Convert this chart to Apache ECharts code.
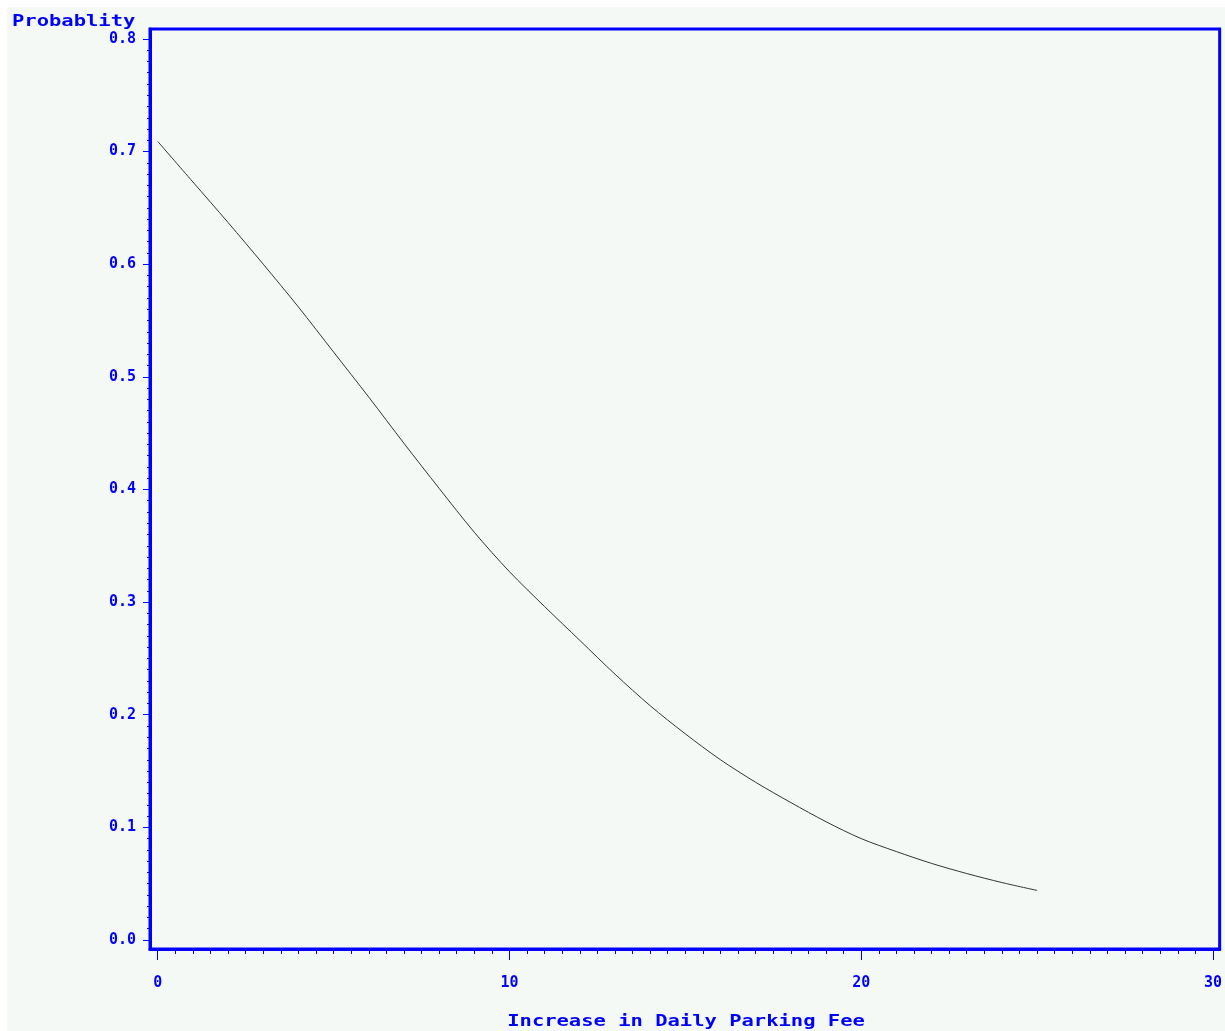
<!DOCTYPE html>
<html>
<head>
<meta charset="utf-8">
<script src="https://cdn.jsdelivr.net/npm/echarts@6/dist/echarts.min.js"></script>
<style>
  html, body { margin: 0; padding: 0; background: #ffffff; }
  #chart { position: absolute; left: 7px; top: 7px; width: 1218px; height: 1024px; background: #f5f9f6; }
</style>
</head>
<body>
<div id="chart"></div>
<script>
// fee increase (x) and predicted probability
const feeIncrease = [0, 1, 2, 3, 4, 5, 6, 7, 8, 9, 10, 11, 12, 13, 14, 15, 16, 17, 18, 19, 20, 21, 22, 23, 24, 25];
const probability = [0.709, 0.673, 0.637, 0.600, 0.562, 0.522, 0.482, 0.441, 0.401, 0.362, 0.327, 0.296, 0.266,
  0.236, 0.208, 0.183, 0.160, 0.140, 0.122, 0.105, 0.090, 0.0785, 0.068, 0.059, 0.051, 0.044];

// tick labels
const xTicks = [0, 10, 20, 30];
const yTicks = [0, 0.1, 0.2, 0.3, 0.4, 0.5, 0.6, 0.7, 0.8];

// minor ticks: every 0.5 on x, every 0.01 on y
const xMinor = [];
for (let i = 0; i <= 60; i++) xMinor.push(i / 2);
const yMinor = [];
for (let i = 0; i <= 80; i++) yMinor.push(i / 100);

const blue = '#0000ff';
const font = { color: blue, fontFamily: 'DejaVu Sans Mono', fontWeight: 'bold', fontSize: 15 };

const chart = echarts.init(document.getElementById('chart'));

const xBase = { type: 'value', min: -0.219, max: 30.19, position: 'bottom', splitLine: { show: false } };
const yBase = { type: 'value', min: -0.008, max: 0.8088, position: 'left', splitLine: { show: false } };

chart.setOption({
  animation: false,
  grid: {
    left: 143, top: 22, right: 5, bottom: 82,
    show: true, borderColor: blue, borderWidth: 3, backgroundColor: 'transparent'
  },
  xAxis: [
    Object.assign({}, xBase, {
      axisLine: { show: true, onZero: false, lineStyle: { color: blue, width: 3 } },
      axisTick: { show: true, customValues: xTicks, length: 11, lineStyle: { color: blue, width: 1 } },
      axisLabel: Object.assign({ customValues: xTicks, margin: 27, formatter: v => String(Math.round(v)) }, font)
    }),
    Object.assign({}, xBase, {
      axisLine: { show: false, onZero: false },
      axisTick: { show: true, customValues: xMinor, length: 5, lineStyle: { color: blue, width: 1 } },
      axisLabel: { show: false }
    })
  ],
  yAxis: [
    Object.assign({}, yBase, {
      axisLine: { show: true, onZero: false, lineStyle: { color: blue, width: 3 } },
      axisTick: { show: true, customValues: yTicks, length: 7, lineStyle: { color: blue, width: 1 } },
      axisLabel: Object.assign({ customValues: yTicks, margin: 14, padding: [6, 0, 0, 0], formatter: v => v.toFixed(1) }, font)
    }),
    Object.assign({}, yBase, {
      axisLine: { show: false, onZero: false },
      axisTick: { show: true, customValues: yMinor, length: 3, lineStyle: { color: blue, width: 1 } },
      axisLabel: { show: false }
    })
  ],
  graphic: [
    {
      type: 'text', left: 5, top: 7, scaleX: 1.28,
      style: { text: 'Probablity', fill: blue, font: 'bold 16px "DejaVu Sans Mono"' }
    },
    {
      type: 'text', x: 679, y: 1015, scaleX: 1.28,
      style: {
        text: 'Increase in Daily Parking Fee', fill: blue, font: 'bold 16px "DejaVu Sans Mono"',
        align: 'center', verticalAlign: 'middle'
      }
    }
  ],
  series: [{
    type: 'line',
    xAxisIndex: 0,
    yAxisIndex: 0,
    data: feeIncrease.map((x, i) => [x, probability[i]]),
    showSymbol: false,
    smooth: 0.3,
    lineStyle: { color: '#333333', width: 1 }
  }]
});
</script>
</body>
</html>
